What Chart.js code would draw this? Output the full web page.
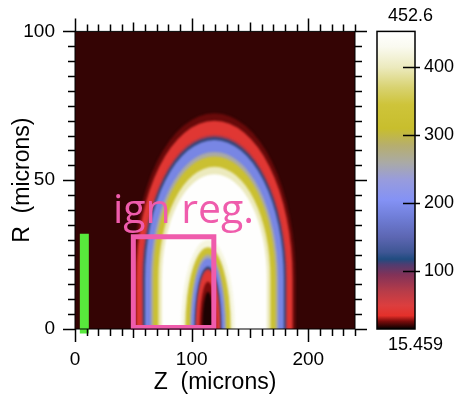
<!DOCTYPE html>
<html>
<head>
<meta charset="utf-8">
<script src="https://cdn.jsdelivr.net/npm/chart.js@4.4.1/dist/chart.umd.min.js"></script>
<style>
  html, body { margin: 0; padding: 0; background: #fff; }
</style>
</head>
<body>
<canvas id="ringChart" width="456" height="396"></canvas>
<script>
// axis ticks
const zTicks = [0, 100, 200];
const rTicks = [0, 50, 100];

// colour bar range + ticks
const cbMin = 15.459;
const cbMax = 452.6;
const cbTicks = [100, 200, 300, 400];

// colour map (value -> rgb)
const cmapValues = [15.459, 20, 27, 35, 50, 70, 95, 110, 118, 128, 150, 180, 205, 235, 260, 285, 310, 345, 370, 400, 430, 452.6];
const cmapColors = [
  [0, 0, 0], [52, 4, 4], [125, 12, 12], [228, 48, 42], [220, 62, 62], [185, 60, 72],
  [130, 50, 88], [80, 60, 112], [32, 76, 128], [62, 86, 148], [92, 102, 178], [112, 126, 216],
  [132, 146, 245], [152, 156, 220], [170, 170, 165], [182, 174, 110], [200, 190, 45],
  [206, 196, 58], [216, 210, 112], [236, 234, 190], [250, 250, 240], [255, 255, 255]
];
const backgroundValue = 20;

// outer shell: contour levels, half width along Z near R=0 and height at the top
// (sides run straight up to shoulderR, then an elliptic cap)
const outerCenter = [119.5, 17];
const outerValues = [25, 42, 75, 115, 190, 260, 320, 400, 450];
const outerHalfZ = [69.5, 67, 62.2, 61, 59.5, 54.5, 52.5, 48, 45];
const outerTopR = [72.5, 70, 65.3, 64.5, 63.5, 59.5, 58, 54.5, 52];

// inner hole (plain half ellipses sitting on the axis)
const innerCenter = [114, 0];
const innerValues = [420, 330, 260, 190, 115, 75, 42, 27, 18];
const innerHalfZ = [23, 19.5, 15.5, 14.3, 11.5, 10.6, 9.8, 7.2, 5];
const innerTopR = [30, 27.5, 25, 23.8, 21, 20.2, 19.6, 16, 12.5];

// overlays
const boxZ = [50, 119, 119, 50, 50];
const boxR = [0.5, 0.5, 31, 31, 0.5];
const barZ = [8, 8];
const barR = [0, 30.5];
const labelText = 'ign reg.';
const labelPos = [32.5, 35.5];

const PINK = '#ef5cac';
const GREEN = '#58e83c';
const FONT = 'Liberation Sans';

function colorAt(v) {
  if (v <= cmapValues[0]) return `rgb(${cmapColors[0].join(',')})`;
  for (let i = 1; i < cmapValues.length; i++) {
    if (v <= cmapValues[i]) {
      const f = (v - cmapValues[i - 1]) / (cmapValues[i] - cmapValues[i - 1]);
      const a = cmapColors[i - 1], b = cmapColors[i];
      const c = a.map((x, k) => Math.round(x + (b[k] - x) * f));
      return `rgb(${c.join(',')})`;
    }
  }
  return `rgb(${cmapColors[cmapColors.length - 1].join(',')})`;
}

// one filled contour: straight sides at zc +- h up to rc, elliptic cap up to top
function fillContour(ctx, xs, ys, center, h, top, value) {
  const zc = center[0], rc = center[1];
  const cx = xs.getPixelForValue(zc);
  const cy = ys.getPixelForValue(rc);
  const rx = xs.getPixelForValue(zc + h) - cx;
  const ry = cy - ys.getPixelForValue(top);
  const base = ys.getPixelForValue(0) + 20;
  ctx.beginPath();
  ctx.moveTo(cx - rx, base);
  ctx.lineTo(cx - rx, cy);
  ctx.ellipse(cx, cy, rx, ry, 0, Math.PI, 0);
  ctx.lineTo(cx + rx, base);
  ctx.closePath();
  ctx.fillStyle = colorAt(value);
  ctx.fill();
}

const fieldPlugin = {
  id: 'field',
  beforeDatasetsDraw(chart) {
    const { ctx, chartArea: ca, scales } = chart;
    const xs = scales.x, ys = scales.y;
    ctx.save();
    ctx.beginPath();
    ctx.rect(ca.left, ca.top, ca.right - ca.left, ca.bottom - ca.top);
    ctx.clip();
    ctx.fillStyle = colorAt(backgroundValue);
    ctx.fillRect(ca.left, ca.top, ca.right - ca.left, ca.bottom - ca.top);
    ctx.filter = 'blur(1px)';
    outerValues.forEach((v, i) => fillContour(ctx, xs, ys, outerCenter, outerHalfZ[i], outerTopR[i], v));
    innerValues.forEach((v, i) => fillContour(ctx, xs, ys, innerCenter, innerHalfZ[i], innerTopR[i], v));
    ctx.restore();
  }
};

// frame, outward ticks on all four sides, colour bar, label
const decorPlugin = {
  id: 'decor',
  afterDatasetsDraw(chart) {
    const { ctx, chartArea: ca, scales } = chart;
    const xs = scales.x, ys = scales.y, cs = scales.cb;
    ctx.save();
    ctx.strokeStyle = '#000';
    ctx.lineWidth = 1;
    ctx.strokeRect(ca.left, ca.top, ca.right - ca.left, ca.bottom - ca.top);

    ctx.lineWidth = 1.5;
    ctx.beginPath();
    for (let z = 0; z <= 240; z += 10) {
      const len = z % 100 === 0 ? 13 : (z % 50 === 0 ? 9 : 7);
      const px = Math.round(xs.getPixelForValue(z)) + 0.5;
      ctx.moveTo(px, ca.bottom); ctx.lineTo(px, ca.bottom + len);
      ctx.moveTo(px, ca.top); ctx.lineTo(px, ca.top - len);
    }
    for (let r = 0; r <= 100; r += 5) {
      const len = r % 50 === 0 ? 12 : 7;
      const py = Math.round(ys.getPixelForValue(r)) + 0.5;
      ctx.moveTo(ca.left, py); ctx.lineTo(ca.left - len, py);
      ctx.moveTo(ca.right, py); ctx.lineTo(ca.right + len, py);
    }
    ctx.stroke();

    // colour bar
    const bx0 = 377, bx1 = 415;
    const by0 = cs.getPixelForValue(cbMax), by1 = cs.getPixelForValue(cbMin);
    const grad = ctx.createLinearGradient(0, by1, 0, by0);
    cmapValues.forEach(v => grad.addColorStop((v - cbMin) / (cbMax - cbMin), colorAt(v)));
    ctx.fillStyle = grad;
    ctx.fillRect(bx0, by0, bx1 - bx0, by1 - by0);
    ctx.lineWidth = 1.5;
    ctx.strokeRect(bx0, by0, bx1 - bx0, by1 - by0);
    ctx.beginPath();
    cbTicks.forEach(v => {
      const py = Math.round(cs.getPixelForValue(v)) + 0.5;
      ctx.moveTo(403, py); ctx.lineTo(420, py);
    });
    ctx.stroke();

    ctx.fillStyle = '#000';
    ctx.font = `18px "${FONT}"`;
    ctx.textAlign = 'left';
    ctx.textBaseline = 'middle';
    cbTicks.forEach(v => ctx.fillText(String(v), 424, cs.getPixelForValue(v)));
    ctx.fillText(String(cbMax), 388, 16);
    ctx.fillText(String(cbMin), 388, 345);

    // region label
    ctx.fillStyle = PINK;
    ctx.font = '41px "Open Sans"';
    ctx.textBaseline = 'alphabetic';
    ctx.fillText(labelText, xs.getPixelForValue(labelPos[0]), ys.getPixelForValue(labelPos[1]));
    ctx.restore();
  }
};

new Chart(document.getElementById('ringChart'), {
  type: 'scatter',
  data: {
    datasets: [
      {
        data: boxZ.map((z, i) => ({ x: z, y: boxR[i] })),
        showLine: true, borderColor: PINK, borderWidth: 5,
        borderJoinStyle: 'miter', borderCapStyle: 'square',
        pointRadius: 0, clip: false
      },
      {
        data: barZ.map((z, i) => ({ x: z, y: barR[i] })),
        showLine: true, borderColor: GREEN, borderWidth: 9,
        borderCapStyle: 'square',
        pointRadius: 0, clip: false
      }
    ]
  },
  options: {
    responsive: false,
    animation: false,
    layout: { padding: { top: 27, right: 101, left: 0, bottom: 0 } },
    plugins: { legend: { display: false }, tooltip: { enabled: false } },
    scales: {
      x: {
        type: 'linear', position: 'bottom', min: 0, max: 240,
        afterBuildTicks: s => { s.ticks = zTicks.map(v => ({ value: v })); },
        ticks: { color: '#000', font: { family: FONT, size: 19 }, padding: 19, maxRotation: 0 },
        grid: { display: false, drawTicks: false }, border: { display: false },
        title: { display: true, text: 'Z  (microns)', color: '#000', font: { family: FONT, size: 23 }, padding: { top: 0, bottom: 0 } },
        afterFit: s => { s.height = 67; }
      },
      y: {
        type: 'linear', position: 'left', min: 0, max: 100,
        afterBuildTicks: s => { s.ticks = rTicks.map(v => ({ value: v })); },
        ticks: { color: '#000', font: { family: FONT, size: 19 }, padding: 20 },
        grid: { display: false, drawTicks: false }, border: { display: false },
        title: { display: true, text: 'R  (microns)', color: '#000', font: { family: FONT, size: 23 }, padding: { top: 9, bottom: 0 } },
        afterFit: s => { s.width = 75; }
      },
      cb: { type: 'linear', axis: 'y', position: 'right', min: cbMin, max: cbMax, display: false }
    }
  },
  plugins: [fieldPlugin, decorPlugin]
});
</script>
</body>
</html>
